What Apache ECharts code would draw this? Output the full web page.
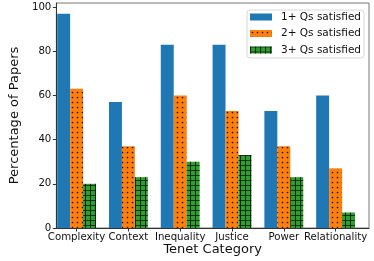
<!DOCTYPE html>
<html>
<head>
<meta charset="utf-8">
<script src="https://cdn.jsdelivr.net/npm/echarts@6/dist/echarts.min.js"></script>
<style>
html,body{margin:0;padding:0;background:#fff;}
#chart{width:374px;height:261px;}
</style>
</head>
<body>
<div id="chart"></div>
<script>
const categories = ['Complexity', 'Context', 'Inequality', 'Justice', 'Power', 'Relationality'];
const seriesNames = ['1+ Qs satisfied', '2+ Qs satisfied', '3+ Qs satisfied'];
const q1Values = [97, 57, 83, 83, 53, 60];
const q2Values = [63, 37, 60, 53, 37, 27];
const q3Values = [20, 23, 30, 33, 23, 7];
const yTicks = [0, 20, 40, 60, 80, 100];
const yMax = 101.85;

const FONT = 'DejaVu Sans';

const dotDecal = {
  symbol: 'circle', symbolSize: 0.34,
  dashArrayX: [5, 0], dashArrayY: [5, 0],
  color: '#111'
};
const gridDecal = {
  symbol: 'path://M0,0L10,0L10,1.7L0,1.7Z M0,0L1.7,0L1.7,10L0,10Z', symbolSize: 1,
  symbolKeepAspect: false,
  dashArrayX: [5, 0], dashArrayY: [5, 0],
  color: '#111'
};

const chart = echarts.init(document.getElementById('chart'), null, {renderer: 'canvas'});
chart.setOption({
  animation: false,
  backgroundColor: '#fff',
  textStyle: {fontFamily: FONT},
  grid: [
    {left: 43, right: 5, top: 3, bottom: 33, show: true, borderColor: '#777', borderWidth: 1, containLabel: false},
    {left: 50.7, right: 12.5, top: 3, bottom: 33, show: false, containLabel: false}
  ],
  legend: {
    left: 247, top: 10, orient: 'vertical',
    padding: [1, 3, 2, 3], itemGap: 4.5,
    itemWidth: 22, itemHeight: 7,
    borderColor: '#d8d8d8', borderWidth: 1, borderRadius: 3,
    backgroundColor: '#fff',
    icon: 'rect',
    textStyle: {fontFamily: FONT, fontSize: 10.5, color: '#111', lineHeight: 12, padding: [0, 0, 0, 4]},
    data: seriesNames
  },
  xAxis: [
    {
      gridIndex: 0, type: 'value', min: 0, max: 1,
      splitLine: {show: false},
      axisLine: {show: true, onZero: false, lineStyle: {color: '#333'}},
      axisTick: {show: false},
      axisLabel: {show: false},
      name: 'Tenet Category', nameLocation: 'middle', nameGap: 15,
      nameTextStyle: {fontSize: 13, color: '#111', fontFamily: FONT}
    },
    {
      gridIndex: 1, type: 'category', data: categories,
      axisLine: {show: false},
      axisTick: {show: true, alignWithLabel: true, length: 3.5, lineStyle: {color: '#333'}},
      axisLabel: {fontSize: 10.2, color: '#111', margin: 4, fontFamily: FONT, interval: 0},
      splitLine: {show: false}
    }
  ],
  yAxis: [
    {
      gridIndex: 0, type: 'value', min: 0, max: yMax,
      splitLine: {show: false},
      axisLine: {show: true, onZero: false, lineStyle: {color: '#333'}},
      axisTick: {show: true, length: 3.5, lineStyle: {color: '#333'}, customValues: yTicks},
      axisLabel: {customValues: yTicks, fontSize: 10.2, color: '#111', margin: 5, fontFamily: FONT},
      name: 'Percentage of Papers', nameLocation: 'middle', nameGap: 27,
      nameTextStyle: {fontSize: 13, color: '#111', fontFamily: FONT}
    },
    {
      gridIndex: 1, type: 'value', min: 0, max: yMax, show: false,
      splitLine: {show: false}
    }
  ],
  series: [
    {name: seriesNames[0], type: 'bar', xAxisIndex: 1, yAxisIndex: 1, data: q1Values, barWidth: '25%', barGap: '0%',
      itemStyle: {color: '#1f77b4'}},
    {name: seriesNames[1], type: 'bar', xAxisIndex: 1, yAxisIndex: 1, data: q2Values, barWidth: '25%', barGap: '0%',
      itemStyle: {color: '#ff7f0e', decal: dotDecal}},
    {name: seriesNames[2], type: 'bar', xAxisIndex: 1, yAxisIndex: 1, data: q3Values, barWidth: '25%', barGap: '0%',
      itemStyle: {color: '#2ca02c', decal: gridDecal}}
  ]
});
</script>
</body>
</html>
